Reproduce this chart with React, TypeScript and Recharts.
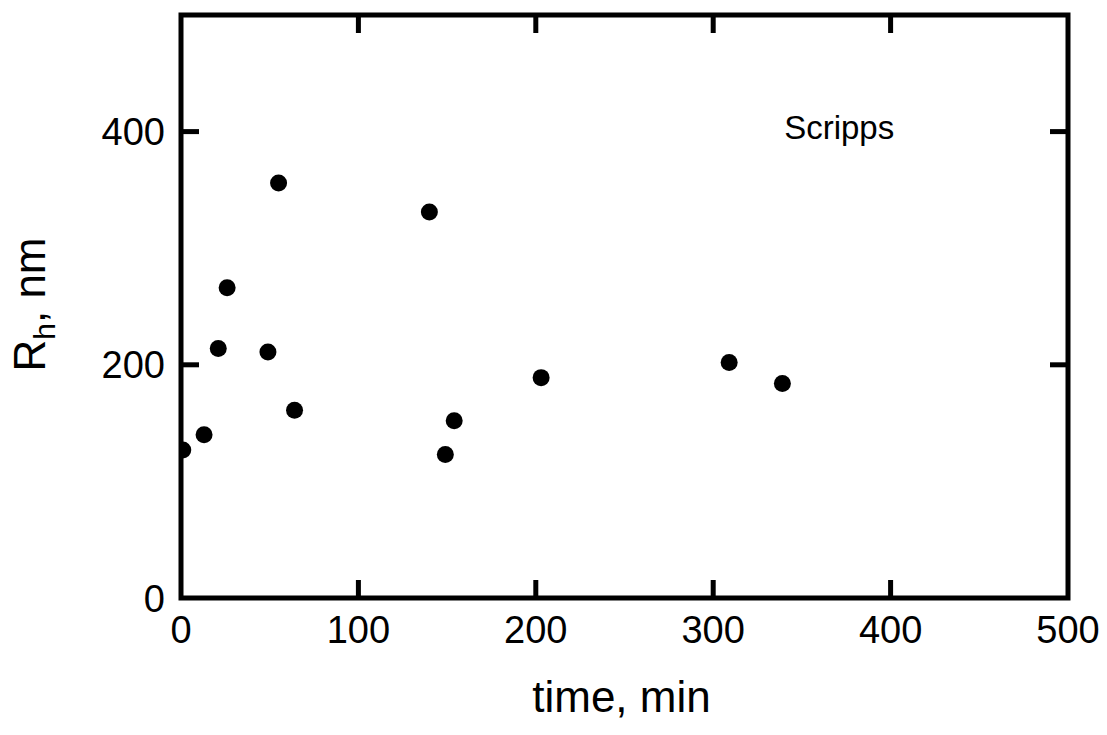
import React from "react";
import {
  ScatterChart,
  Scatter,
  XAxis,
  YAxis,
  ReferenceArea,
  ReferenceDot,
} from "recharts";

const times = [1, 13, 21, 26, 49, 55, 64, 140, 149, 154, 203, 309, 339];
const radii = [127, 140, 214, 266, 211, 356, 161, 331, 123, 152, 189, 202, 184];
const xTicks = [0, 100, 200, 300, 400, 500];
const yTicks = [0, 200, 400];

const data = times.map((t, i) => ({ t, rh: radii[i] }));

const FONT = '"Liberation Sans", Arial, Helvetica, sans-serif';
const W = 1107;
const H = 735;
const M = { top: 15, right: 39, bottom: 77, left: 81 };
const PLOT_TOP = M.top;
const PLOT_RIGHT = W - M.right;
const TICK = 18;
const LW = 5;

function XTick(props: any) {
  const { x, y, payload } = props;
  const v = payload.value;
  const inner = v > 0 && v < 500;
  return (
    <g>
      {inner && (
        <>
          <line x1={x} x2={x} y1={y} y2={y - TICK} stroke="#000" strokeWidth={LW} />
          <line x1={x} x2={x} y1={PLOT_TOP} y2={PLOT_TOP + TICK} stroke="#000" strokeWidth={LW} />
        </>
      )}
      <text x={x} y={y + 45} textAnchor="middle" fontFamily={FONT} fontSize={38} fill="#000">
        {v}
      </text>
    </g>
  );
}

function YTick(props: any) {
  const { x, y, payload } = props;
  const v = payload.value;
  return (
    <g>
      {v > 0 && (
        <>
          <line x1={x} x2={x + TICK} y1={y} y2={y} stroke="#000" strokeWidth={LW} />
          <line x1={PLOT_RIGHT} x2={PLOT_RIGHT - TICK} y1={y} y2={y} stroke="#000" strokeWidth={LW} />
        </>
      )}
      <text x={x - 16} y={y} dy="0.36em" textAnchor="end" fontFamily={FONT} fontSize={38} fill="#000">
        {v}
      </text>
    </g>
  );
}

export default function App() {
  return (
    <div style={{ position: "absolute", left: 0, top: 0, width: W, height: H, background: "#fff" }}>
      <ScatterChart width={W} height={H} margin={M}>
        <XAxis
          type="number"
          dataKey="t"
          domain={[0, 500]}
          ticks={xTicks}
          allowDataOverflow
          height={60}
          tickSize={0}
          tickMargin={0}
          axisLine={false}
          tickLine={false}
          tick={<XTick />}
          label={{
            content: (p: any) => {
              const vb = p.viewBox;
              return (
                <text x={vb.x + vb.width / 2 - 3} y={712} textAnchor="middle" fontFamily={FONT} fontSize={44} fill="#000">
                  time, min
                </text>
              );
            },
          }}
        />
        <YAxis
          type="number"
          dataKey="rh"
          domain={[0, 500]}
          ticks={yTicks}
          allowDataOverflow
          width={100}
          tickSize={0}
          tickMargin={0}
          axisLine={false}
          tickLine={false}
          tick={<YTick />}
          label={{
            content: (p: any) => {
              const vb = p.viewBox;
              const cy = vb.y + vb.height / 2 - 2;
              return (
                <text
                  x={45}
                  y={cy}
                  transform={`rotate(-90, 45, ${cy})`}
                  textAnchor="middle"
                  fontFamily={FONT}
                  fontSize={44}
                  fill="#000"
                >
                  <tspan>R</tspan>
                  <tspan fontSize={30} dy={10}>h</tspan>
                  <tspan dy={-10}>, nm</tspan>
                </text>
              );
            },
          }}
        />
        <ReferenceArea
          x1={0}
          x2={500}
          y1={0}
          y2={500}
          fill="none"
          stroke="#000"
          strokeWidth={LW}
          ifOverflow="visible"
        />
        <ReferenceDot
          x={340}
          y={394}
          r={0}
          fill="none"
          stroke="none"
          label={{
            content: (p: any) => {
              const vb = p.viewBox;
              return (
                <text x={vb.x} y={vb.y} textAnchor="start" fontFamily={FONT} fontSize={33} fill="#000">
                  Scripps
                </text>
              );
            },
          }}
        />
        <Scatter
          data={data}
          isAnimationActive={false}
          shape={(p: any) => <circle cx={p.cx} cy={p.cy} r={8.5} fill="#000" />}
        />
      </ScatterChart>
    </div>
  );
}
